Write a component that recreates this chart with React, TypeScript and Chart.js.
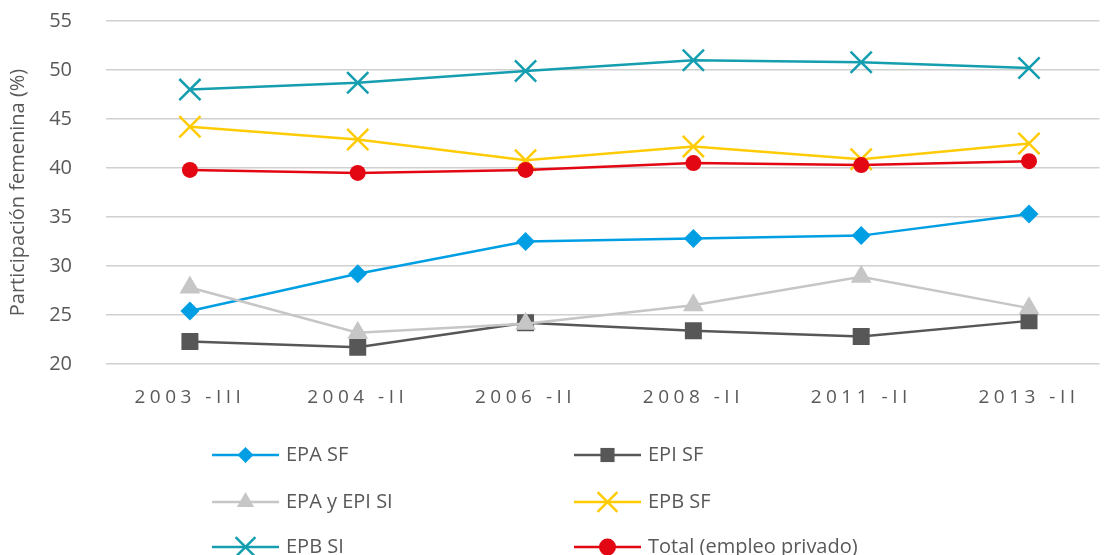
import React, { useEffect, useRef } from 'react';
import { Chart, registerables } from 'chart.js';
import { drawPoint } from 'chart.js/helpers';

Chart.register(...registerables);

// ---- Data ----
const periods = ['2003 -III', '2004 -II', '2006 -II', '2008 -II', '2011 -II', '2013 -II'];
const epaSF = [25.4, 29.2, 32.5, 32.8, 33.1, 35.3];
const epiSF = [22.3, 21.7, 24.2, 23.4, 22.8, 24.4];
const epaEpiSI = [27.8, 23.2, 24.1, 26.0, 28.9, 25.7];
const epbSF = [44.2, 42.9, 40.8, 42.2, 40.9, 42.5];
const epbSI = [48.0, 48.7, 49.9, 51.0, 50.8, 50.2];
const totalPriv = [39.8, 39.5, 39.8, 40.5, 40.3, 40.7];
const seriesLabels = ['EPA SF', 'EPI SF', 'EPA y EPI SI', 'EPB SF', 'EPB SI', 'Total (empleo privado)'];
const yAxisTitle = 'Participación femenina (%)';

const FONT = '"Open Sans", sans-serif';
const TEXT = '#595959';

type Style = { color: string; pointStyle: string; radius: number; legendRadius: number; border: number; lineWidth: number };
const styles: Style[] = [
  { color: '#009FE3', pointStyle: 'rectRot', radius: 9.5, legendRadius: 8, border: 0, lineWidth: 2.5 },
  { color: '#575757', pointStyle: 'rect', radius: 12, legendRadius: 10, border: 0, lineWidth: 2.5 },
  { color: '#C6C6C6', pointStyle: 'triangle', radius: 12, legendRadius: 10, border: 0, lineWidth: 2.5 },
  { color: '#FFCB05', pointStyle: 'crossRot', radius: 15, legendRadius: 14, border: 2.5, lineWidth: 2.5 },
  { color: '#159EAF', pointStyle: 'crossRot', radius: 15, legendRadius: 14, border: 2.5, lineWidth: 2.5 },
  { color: '#E30613', pointStyle: 'circle', radius: 8, legendRadius: 8.5, border: 0, lineWidth: 2.5 },
];
const seriesValues = [epaSF, epiSF, epaEpiSI, epbSF, epbSI, totalPriv];

const legendCols = [212, 574];
const legendRows = [455, 502, 547];

const gridLegend = {
  id: 'gridLegend',
  afterDraw(chart: any) {
    const ctx = chart.ctx as CanvasRenderingContext2D;
    seriesLabels.forEach((label, i) => {
      const st = styles[i];
      const x0 = legendCols[i % 2];
      const y = legendRows[Math.floor(i / 2)];
      ctx.save();
      ctx.strokeStyle = st.color;
      ctx.lineWidth = st.lineWidth;
      ctx.beginPath();
      ctx.moveTo(x0, y);
      ctx.lineTo(x0 + 67, y);
      ctx.stroke();
      ctx.fillStyle = st.color;
      ctx.strokeStyle = st.color;
      ctx.lineWidth = st.border;
      drawPoint(ctx, { pointStyle: st.pointStyle as any, rotation: 0, radius: st.legendRadius, borderWidth: st.border }, x0 + 33.5, y);
      ctx.fillStyle = TEXT;
      ctx.font = `20px ${FONT}`;
      ctx.textAlign = 'left';
      ctx.textBaseline = 'middle';
      ctx.fillText(label, x0 + 74, y);
      ctx.restore();
    });
  },
};

const xSpacing = {
  id: 'xSpacing',
  beforeDraw(chart: any) {
    const xs = chart.scales.x;
    if (xs && !xs.__patched) {
      const orig = xs.drawLabels.bind(xs);
      xs.drawLabels = (area: any) => {
        const ctx = chart.ctx as any;
        ctx.save();
        ctx.letterSpacing = '4.5px';
        orig(area);
        ctx.restore();
      };
      xs.__patched = true;
    }
  },
};

export default function App() {
  const ref = useRef<HTMLCanvasElement | null>(null);
  useEffect(() => {
    if (!ref.current) return;
    const datasets = seriesLabels.map((label, i) => {
      const st = styles[i];
      return {
        label,
        data: seriesValues[i].map((v, j) => ({ x: j, y: v })),
        borderColor: st.color,
        backgroundColor: st.color,
        borderWidth: st.lineWidth,
        pointStyle: st.pointStyle,
        pointRadius: st.radius,
        pointHoverRadius: st.radius,
        pointBackgroundColor: st.color,
        pointBorderColor: st.color,
        pointBorderWidth: st.border,
        tension: 0,
        order: seriesLabels.length - 1 - i,
      };
    });
    const chart = new Chart(ref.current, {
      type: 'line',
      data: { datasets: datasets as any },
      plugins: [xSpacing, gridLegend],
      options: {
        animation: false,
        responsive: false,
        layout: { padding: { top: 21, right: 0, bottom: 0, left: 0 } },
        plugins: { legend: { display: false }, tooltip: { enabled: false } },
        scales: {
          x: {
            type: 'linear',
            min: -0.5,
            max: 5.42,
            grid: { display: false },
            border: { display: false },
            ticks: {
              stepSize: 1,
              includeBounds: false,
              autoSkip: false,
              maxRotation: 0,
              padding: 14,
              color: TEXT,
              font: { family: FONT, size: 19 },
              callback: (v: any) => (Number.isInteger(v) && v >= 0 && v < periods.length ? periods[v] : ''),
            },
            afterFit: (s: any) => {
              s.height = 191;
              s.paddingLeft = 0;
              s.paddingRight = 0;
            },
          },
          y: {
            min: 20,
            max: 55,
            grid: { color: '#D0D0D0', lineWidth: 1.5, drawTicks: false },
            border: { display: false },
            ticks: { stepSize: 5, padding: 34, color: TEXT, font: { family: FONT, size: 20 } },
            title: { display: true, text: yAxisTitle, color: TEXT, font: { family: FONT, size: 20 }, padding: { top: 6, bottom: 0 } },
            afterFit: (s: any) => {
              s.width = 106;
              s.paddingTop = 0;
              s.paddingBottom = 0;
            },
          },
        },
      },
    });
    return () => chart.destroy();
  }, []);
  return (
    <div style={{ position: 'absolute', left: 0, top: 0, width: 1117, height: 555, background: '#fff' }}>
      <canvas ref={ref} width={1117} height={555} />
    </div>
  );
}
